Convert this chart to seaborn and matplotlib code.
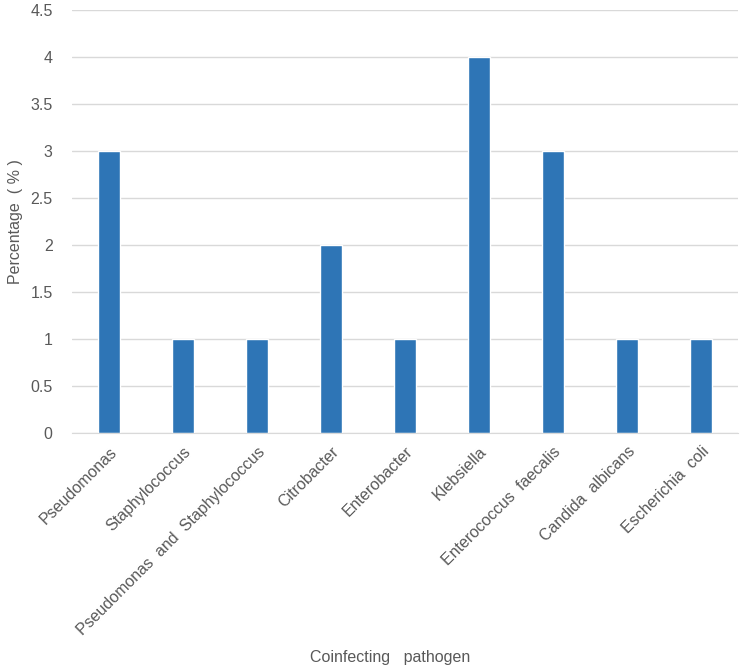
import matplotlib
matplotlib.use("Agg")
import matplotlib.pyplot as plt
import seaborn as sns
import pandas as pd

# Valeurs
pathogens = ["Pseudomonas", "Staphylococcus", "Pseudomonas  and  Staphylococcus",
             "Citrobacter", "Enterobacter", "Klebsiella", "Enterococcus  faecalis",
             "Candida  albicans", "Escherichia  coli"]
percentages = [3, 1, 1, 2, 1, 4, 3, 1, 1]
y_ticks = [0, 0.5, 1, 1.5, 2, 2.5, 3, 3.5, 4, 4.5]

df = pd.DataFrame({"pathogen": pathogens, "pct": percentages})

sns.set_style("white")
plt.rcParams["font.family"] = ["Liberation Sans", "DejaVu Sans"]
grey = "#595959"

fig = plt.figure(figsize=(7.5, 6.67), dpi=100)
ax = fig.add_axes([0.096, 0.351, 0.888, 0.634])

sns.barplot(data=df, x="pathogen", y="pct", color="#2E75B6", width=0.31,
            saturation=1, ax=ax)

ax.set_ylim(0, 4.5)
ax.set_yticks(y_ticks)
ax.set_yticklabels([f"{t:g}" for t in y_ticks], fontsize=11.5, color=grey)
ax.yaxis.grid(True, color="#D9D9D9", lw=1)
ax.set_axisbelow(True)
for s in ["top", "right", "left"]:
    ax.spines[s].set_visible(False)
ax.spines["bottom"].set_color("#D9D9D9")
ax.tick_params(axis="y", length=0, pad=14)
ax.tick_params(axis="x", length=0, pad=8)

plt.setp(ax.get_xticklabels(), rotation=45, ha="right", rotation_mode="anchor",
         fontsize=11.5, color=grey)

ax.set_xlabel("")
ax.set_ylabel("Percentage  ( % )", fontsize=11.5, color=grey)
ax.yaxis.set_label_coords(-0.073, 0.5)
fig.text(0.52, 0.008, "Coinfecting   pathogen", ha="center", fontsize=11.5, color=grey)

fig.savefig("out.png", dpi=100)
